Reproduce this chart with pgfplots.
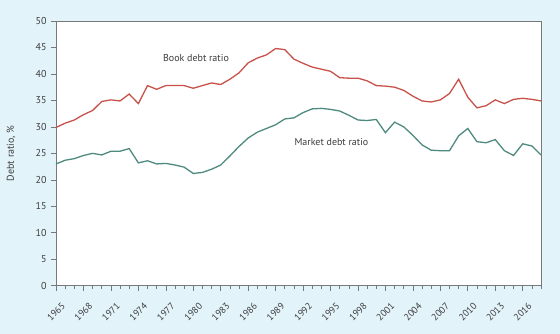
\documentclass[border=0pt]{standalone}
\usepackage{pgfplots}
\pgfplotsset{compat=1.18}
\usepackage{fontspec}
\setmainfont{PT Sans}
\definecolor{bgblue}{RGB}{227,243,250}
\definecolor{bookred}{RGB}{200,82,74}
\definecolor{mktgreen}{RGB}{78,138,128}
\definecolor{axgray}{RGB}{120,120,120}
\definecolor{txtgray}{RGB}{60,60,60}
\begin{document}
\begin{tikzpicture}
\fill[bgblue] (-56bp,-48.3bp) rectangle (504bp,285.7bp);
\begin{axis}[
  at={(0,0)}, anchor=south west,
  width=485bp, height=264.7bp, scale only axis,
  xmin=1965, xmax=2018, ymin=0, ymax=50,
  xtick={1965,1968,...,2016},
  minor xtick={1965,...,2018},
  ytick={0,5,...,50},
  xtick pos=bottom, ytick pos=left,
  tick align=outside,
  major tick length=5bp, minor tick length=3bp,
  tick style={axgray, line width=0.6pt},
  axis line style={axgray, line width=0.7pt},
  axis background/.style={fill=white},
  font=\fontsize{10bp}{12bp}\selectfont,
  /pgf/number format/assume math mode=true,
  /pgf/number format/1000 sep={},
  tick label style={text=txtgray},
  xticklabel style={anchor=center, yshift=-21bp, rotate=45, inner sep=0pt, font=\fontsize{9.5bp}{11bp}\selectfont},
  yticklabel style={xshift=-1bp},
  ylabel={Debt ratio, \%},
  every axis y label/.style={at={(axis description cs:0,0.5)}, xshift=-37bp, rotate=90, anchor=south, text=txtgray, font=\fontsize{10bp}{12bp}\selectfont},
]
\addplot[bookred, line width=1.3pt] coordinates {
(1965,29.9)(1966,30.7)(1967,31.3)(1968,32.3)(1969,33.1)(1970,34.8)(1971,35.1)(1972,34.9)(1973,36.2)(1974,34.4)
(1975,37.8)(1976,37.1)(1977,37.8)(1978,37.8)(1979,37.8)(1980,37.3)(1981,37.8)(1982,38.3)(1983,38.0)(1984,39.0)
(1985,40.2)(1986,42.1)(1987,43.0)(1988,43.6)(1989,44.8)(1990,44.6)(1991,42.8)(1992,42.0)(1993,41.3)(1994,40.9)
(1995,40.5)(1996,39.3)(1997,39.2)(1998,39.2)(1999,38.7)(2000,37.8)(2001,37.7)(2002,37.5)(2003,36.9)(2004,35.8)
(2005,34.9)(2006,34.7)(2007,35.1)(2008,36.3)(2009,39.0)(2010,35.6)(2011,33.6)(2012,34.0)(2013,35.1)(2014,34.4)
(2015,35.2)(2016,35.4)(2017,35.2)(2018,34.9)
};
\addplot[mktgreen, line width=1.3pt] coordinates {
(1965,23.0)(1966,23.7)(1967,24.0)(1968,24.6)(1969,25.0)(1970,24.7)(1971,25.4)(1972,25.4)(1973,25.9)(1974,23.2)
(1975,23.6)(1976,23.0)(1977,23.1)(1978,22.8)(1979,22.4)(1980,21.2)(1981,21.4)(1982,22.0)(1983,22.8)(1984,24.5)
(1985,26.3)(1986,27.9)(1987,29.0)(1988,29.7)(1989,30.4)(1990,31.5)(1991,31.7)(1992,32.7)(1993,33.4)(1994,33.5)
(1995,33.3)(1996,33.0)(1997,32.2)(1998,31.3)(1999,31.2)(2000,31.4)(2001,28.9)(2002,30.9)(2003,30.0)(2004,28.4)
(2005,26.6)(2006,25.6)(2007,25.5)(2008,25.5)(2009,28.3)(2010,29.7)(2011,27.2)(2012,27.0)(2013,27.6)(2014,25.5)
(2015,24.6)(2016,26.8)(2017,26.4)(2018,24.7)
};
\node[text=txtgray, font=\fontsize{10bp}{12bp}\selectfont] at (axis cs:1980.3,43.0) {Book debt ratio};
\node[text=txtgray, font=\fontsize{10bp}{12bp}\selectfont] at (axis cs:1995.1,27.2) {Market debt ratio};
\end{axis}
\end{tikzpicture}
\end{document}
